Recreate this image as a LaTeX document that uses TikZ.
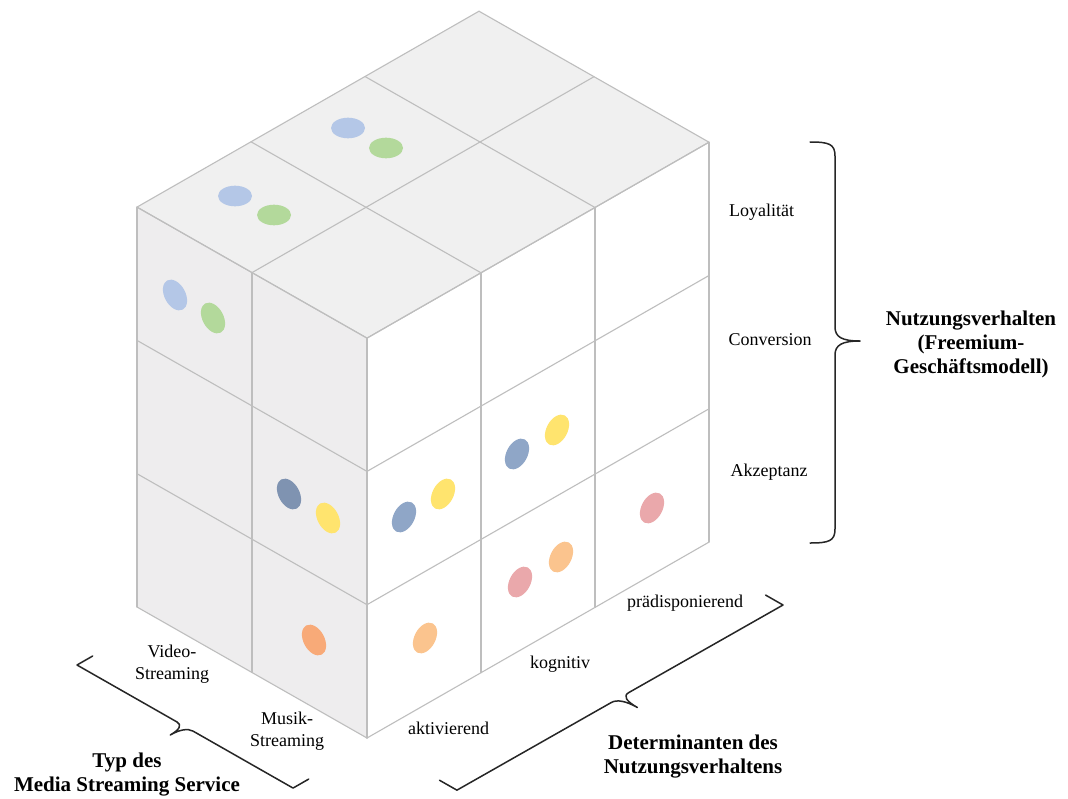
\documentclass[tikz,border=0pt]{standalone}
\usepackage{fontspec}
\setmainfont{Liberation Serif}
\definecolor{cubeline}{HTML}{BEBEBE}
\definecolor{topface}{HTML}{F0F0F0}
\definecolor{sideface}{HTML}{EEEDEE}
\definecolor{lblue}{HTML}{B4C7E7}
\definecolor{lgreen}{HTML}{B3D99B}
\definecolor{slateL}{HTML}{7F93B1}
\definecolor{slateR}{HTML}{8FA6C7}
\definecolor{yell}{HTML}{FFE46E}
\definecolor{rose}{HTML}{EAA8AB}
\definecolor{orangeL}{HTML}{F8AA78}
\definecolor{orangeR}{HTML}{FBC48E}
\definecolor{braceink}{HTML}{262626}
% dots on the top face, the left face and the right face
\newcommand\dotT[3]{\fill[#1] (#2,-#3) ellipse [x radius=17, y radius=10.3];}
\newcommand\dotL[3]{\fill[#1, rotate around={28:(#2,-#3)}] (#2,-#3) ellipse [x radius=10.5, y radius=16.5];}
\newcommand\dotR[3]{\fill[#1, rotate around={-28:(#2,-#3)}] (#2,-#3) ellipse [x radius=10.5, y radius=16.5];}
\begin{document}
\begin{tikzpicture}[x=1pt,y=1pt,
  gridline/.style={draw=cubeline, line width=1.1pt, line join=round, line cap=round},
  lbl/.style={font=\fontsize{18}{22}\selectfont, inner sep=0pt, align=center},
  ttl/.style={font=\fontsize{21}{24}\selectfont\bfseries, inner sep=0pt, align=center},
  bracket/.style={draw=braceink, line width=1.5pt, line join=round, line cap=round}]
\useasboundingbox[fill=white] (0,0) rectangle (1068,-798);

% lattice points of the cube: a = Typ (left), b = Determinanten (right), c = Nutzungsverhalten (up)
\foreach \a in {0,1,2}{
  \foreach \b in {0,1,2,3}{
    \foreach \c in {0,1,2,3}{
      \coordinate (p\a\b\c) at ({367-115*\a+114*\b},{-738+65.5*\a+65.3*\b+133.3*\c});
    }}}

% faces
\fill[sideface] (p000) -- (p200) -- (p203) -- (p003) -- cycle;
\fill[white]    (p000) -- (p030) -- (p033) -- (p003) -- cycle;
\fill[topface]  (p003) -- (p203) -- (p233) -- (p033) -- cycle;

% grid of the left face
\foreach \a in {0,1,2}{\draw[gridline] (p\a00) -- (p\a03);}
\foreach \c in {0,1,2,3}{\draw[gridline] (p00\c) -- (p20\c);}
% grid of the right face
\foreach \b in {0,1,2,3}{\draw[gridline] (p0\b0) -- (p0\b3);}
\foreach \c in {0,1,2,3}{\draw[gridline] (p00\c) -- (p03\c);}
% grid of the top face
\foreach \a in {0,1,2}{\draw[gridline] (p\a03) -- (p\a33);}
\foreach \b in {0,1,2,3}{\draw[gridline] (p0\b3) -- (p2\b3);}

% dots
\dotT{lblue}{235}{196}
\dotT{lgreen}{274}{215}
\dotT{lblue}{348}{128}
\dotT{lgreen}{386}{148}
\dotL{lblue}{175}{295}
\dotL{lgreen}{213}{318}
\dotL{slateL}{289}{494}
\dotL{yell}{328}{518}
\dotL{orangeL}{314}{640}
\dotR{slateR}{404}{517}
\dotR{yell}{443}{494}
\dotR{slateR}{517}{454}
\dotR{yell}{557}{430}
\dotR{rose}{652}{508}
\dotR{orangeR}{425}{638}
\dotR{rose}{520}{582}
\dotR{orangeR}{561}{557}

% row labels
\node[lbl] (loy) at (761.5,-212) {Loyalität};
\node[lbl] (conv) at (770,-340) {Conversion};
\node[lbl] (akz) at (769,-472) {Akzeptanz};
% column labels
\node[lbl] (video) at (172,-664) {Video-\\Streaming};
\node[lbl] (musik) at (287,-731) {Musik-\\Streaming};
\node[lbl] (akt) at (448.5,-728) {aktivierend};
\node[lbl] (kog) at (560,-664) {kognitiv};
\node[lbl] (praed) at (685,-603) {prädisponierend};

% axis titles
\node[ttl] (nv) at (971,-344) {Nutzungsverhalten\\(Freemium-\\Geschäftsmodell)};
\node[ttl] (typ) at (127,-775) {Typ des\\Media Streaming Service};
\node[ttl] (det) at (693,-757) {Determinanten des\\Nutzungsverhaltens};

% brace of the vertical axis
\draw[bracket] (810,-142) .. controls (829,-142) and (835,-144) .. (835,-156)
  -- (835,-327) .. controls (835,-337) and (842,-341) .. (860,-341)
  .. controls (842,-341) and (835,-345) .. (835,-355)
  -- (835,-529) .. controls (835,-541) and (829,-543) .. (810,-543);

% brace under the left face (lies in the ground plane)
\begin{scope}[shift={(77,-665)}, x={(0.869pt,-0.495pt)}, y={(-0.868pt,-0.497pt)}]
\draw[bracket] (0,-18) -- (0,0) -- (115,0) .. controls (121,0) and (124.3,6) .. (124.3,17)
  .. controls (124.3,6) and (127.6,0) .. (133.6,0) -- (248.6,0) -- (248.6,-18);
\end{scope}

% brace under the right face (lies in the ground plane)
\begin{scope}[shift={(783,-605)}, x={(-0.870pt,-0.494pt)}, y={(0.869pt,-0.495pt)}]
\draw[bracket] (0,-20) -- (0,0) -- (177.4,0) .. controls (184,0) and (187.4,7) .. (187.4,20)
  .. controls (187.4,7) and (190.8,0) .. (197.4,0) -- (374.8,0) -- (374.8,-20);
\end{scope}
\end{tikzpicture}
\end{document}
